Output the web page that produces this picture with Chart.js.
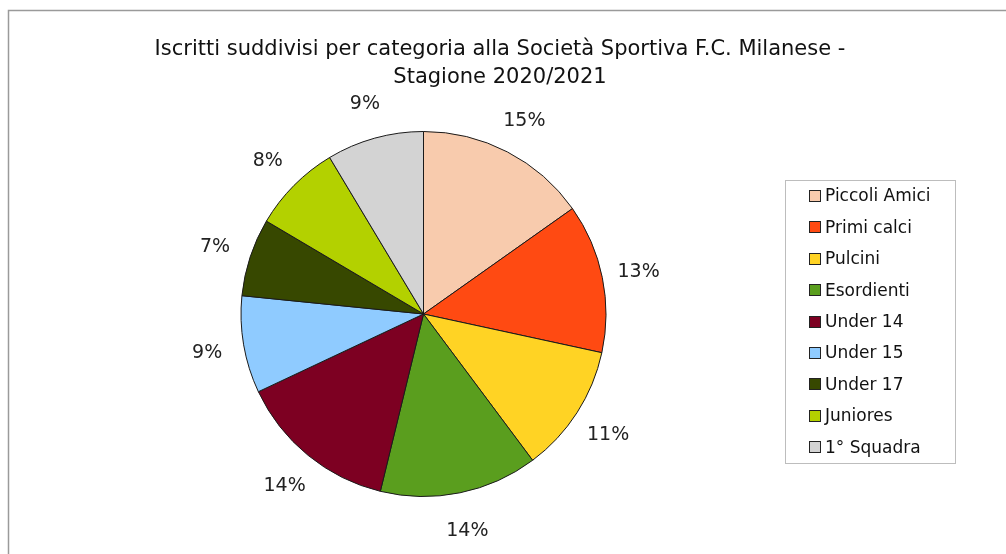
<!DOCTYPE html>
<html>
<head>
<meta charset="utf-8">
<script src="https://cdn.jsdelivr.net/npm/chart.js@4.4.0/dist/chart.umd.min.js"></script>
<style>
  html, body { margin: 0; padding: 0; background: #fff; }
  #wrap { width: 1006px; height: 554px; position: relative; }
</style>
</head>
<body>
<div id="wrap"><canvas id="pieChart" width="1006" height="554"></canvas></div>
<script>
const titleLines = ["Iscritti suddivisi per categoria alla Società Sportiva F.C. Milanese -", "Stagione 2020/2021"];
const categories = ["Piccoli Amici", "Primi calci", "Pulcini", "Esordienti", "Under 14", "Under 15", "Under 17", "Juniores", "1° Squadra"];
// quote in percentuale
const shares = [15.2, 13.2, 11.4, 14.0, 14.2, 8.6, 6.9, 7.9, 8.6];
const colors = ["#F8CBAD", "#FF4A12", "#FFD324", "#5A9E1E", "#7D0022", "#8FCBFF", "#374800", "#B3D100", "#D3D3D3"];

const FONT = "'DejaVu Sans', Verdana, sans-serif";

// cornice, titolo, etichette e legenda
const decorations = {
  id: "decorations",
  beforeDraw(chart) {
    const ctx = chart.ctx;
    ctx.save();
    ctx.strokeStyle = "#9a9a9a";
    ctx.lineWidth = 1.5;
    ctx.beginPath();
    ctx.moveTo(8.5, 560);
    ctx.lineTo(8.5, 10.5);
    ctx.lineTo(1010, 10.5);
    ctx.stroke();

    ctx.fillStyle = "#111";
    ctx.font = "21px " + FONT;
    ctx.textAlign = "center";
    ctx.textBaseline = "middle";
    ctx.fillText(titleLines[0], 500, 50);
    ctx.fillText(titleLines[1], 500, 78);
    ctx.restore();
  },
  afterDatasetsDraw(chart) {
    const ctx = chart.ctx;
    const meta = chart.getDatasetMeta(0);
    const data = chart.data.datasets[0].data;
    const total = data.reduce((a, b) => a + b, 0);
    ctx.save();
    ctx.fillStyle = "#222";
    ctx.font = "19px " + FONT;
    ctx.textAlign = "center";
    ctx.textBaseline = "middle";
    meta.data.forEach((arc, i) => {
      const p = arc.getProps(["x", "y", "startAngle", "endAngle", "outerRadius"], true);
      const mid = (p.startAngle + p.endAngle) / 2;
      const r = p.outerRadius + 37;
      const pct = Math.round(data[i] / total * 100) + "%";
      ctx.fillText(pct, p.x + Math.cos(mid) * r, p.y + Math.sin(mid) * r + 2);
    });

    // legenda con riquadro
    ctx.strokeStyle = "#bdbdbd";
    ctx.lineWidth = 1;
    ctx.strokeRect(785.5, 180.5, 170, 283);
    ctx.font = "17px " + FONT;
    ctx.textAlign = "left";
    chart.data.labels.forEach((lab, i) => {
      const y = 196 + i * 31.4;
      ctx.fillStyle = colors[i];
      ctx.fillRect(810, Math.round(y) - 5, 10, 10);
      ctx.strokeStyle = "#222";
      ctx.strokeRect(809.5, Math.round(y) - 5.5, 11, 11);
      ctx.fillStyle = "#111";
      ctx.fillText(lab, 825, y + 1);
    });
    ctx.restore();
  }
};

new Chart(document.getElementById("pieChart"), {
  type: "pie",
  data: {
    labels: categories,
    datasets: [{
      data: shares,
      backgroundColor: colors,
      borderColor: "#1a1a1a",
      borderWidth: 1
    }]
  },
  options: {
    responsive: false,
    animation: false,
    layout: { padding: { left: 240, right: 399, top: 131, bottom: 57 } },
    plugins: {
      legend: { display: false },
      title: { display: false },
      tooltip: { enabled: false }
    }
  },
  plugins: [decorations]
});
</script>
</body>
</html>
